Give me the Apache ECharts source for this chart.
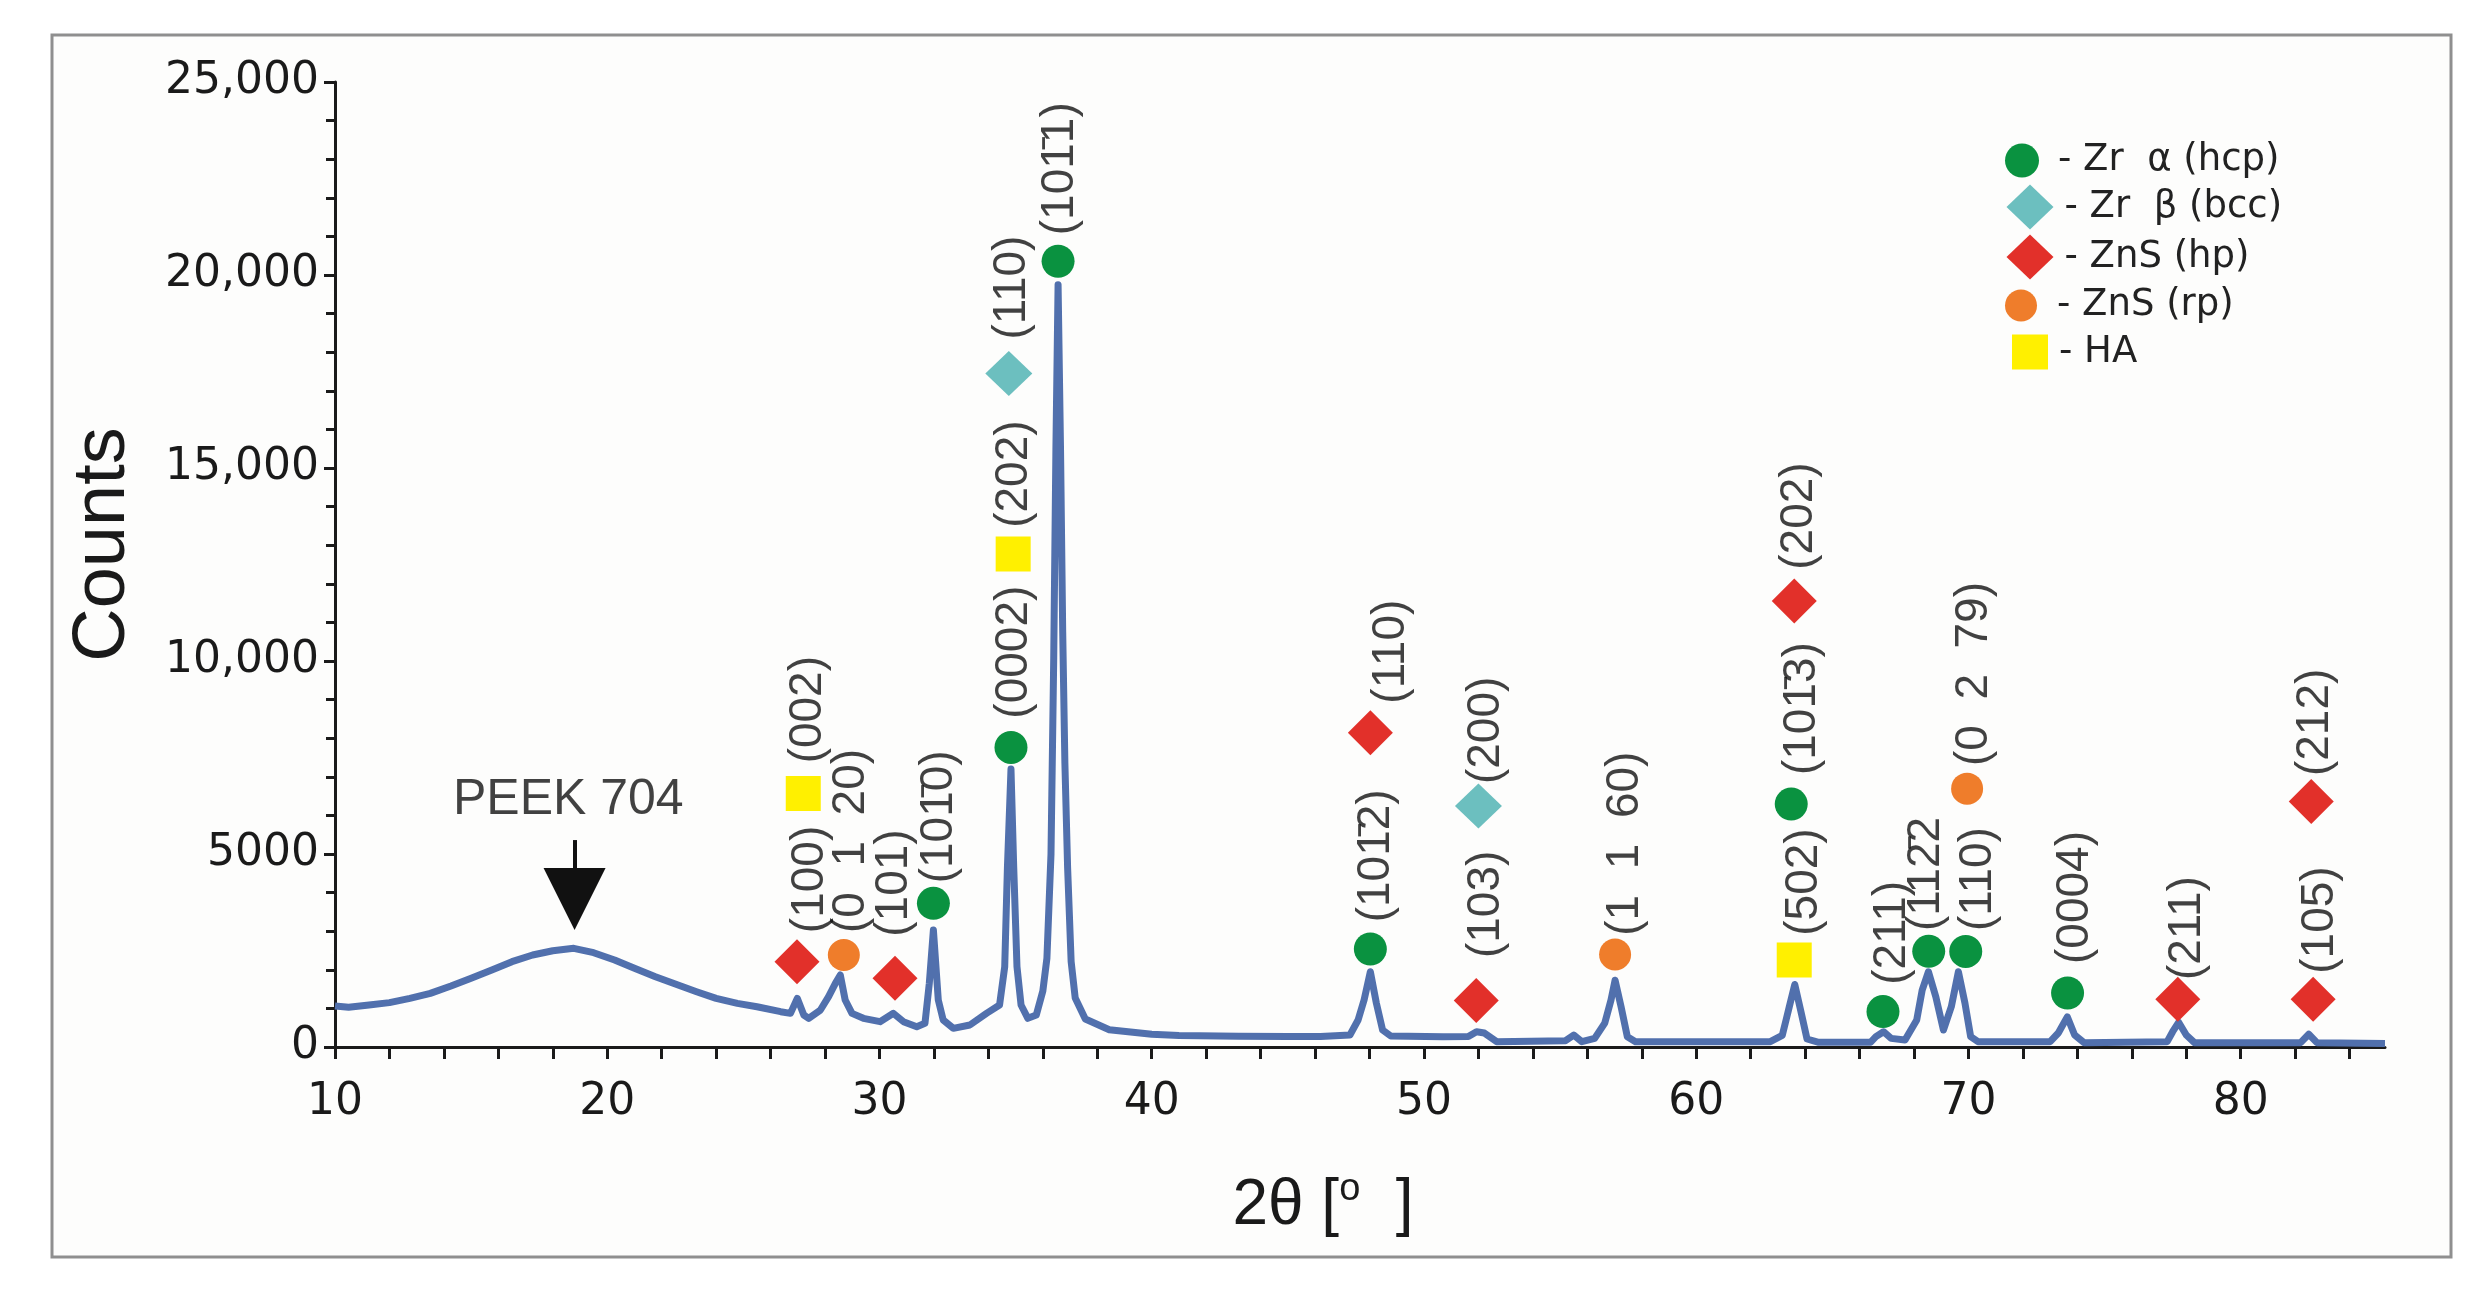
<!DOCTYPE html>
<html>
<head>
<meta charset="utf-8">
<script src="https://cdn.jsdelivr.net/npm/echarts@6/dist/echarts.min.js"></script>
<style>
html,body{margin:0;padding:0;background:#ffffff;}
#chart{width:2488px;height:1296px;}
</style>
</head>
<body>
<div id="chart"></div>
<script>
// ---------- data ----------
const twoTheta = [
  10.0,10.5,11.25,12.0,12.75,13.5,14.26,15.0,15.76,16.5,17.26,18.0,18.77,19.5,20.27,21.0,21.77,22.5,23.28,24.0,
  24.78,25.5,26.37,26.73,26.98,27.22,27.4,27.83,28.13,28.38,28.56,28.74,28.99,29.41,30.02,30.51,30.88,31.37,31.67,
  31.83,31.98,32.16,32.34,32.71,33.32,33.93,34.41,34.6,34.7,34.83,34.93,35.05,35.2,35.45,35.76,36.0,36.15,36.3,
  36.4,36.48,36.56,36.65,36.73,36.81,36.91,37.04,37.19,37.56,38.44,40.0,41.0,43.2,45.0,46.2,47.28,47.58,47.8,
  48.03,48.25,48.48,48.78,50.7,51.63,51.93,52.22,52.67,55.2,55.5,55.8,56.27,56.64,56.87,57.02,57.24,57.47,57.77,
  62.72,63.16,63.3,63.42,63.62,63.86,64.07,64.5,66.4,66.6,66.88,67.16,67.67,68.1,68.3,68.53,68.8,69.08,69.37,
  69.63,69.87,70.08,70.35,73.0,73.3,73.63,73.9,74.25,77.3,77.5,77.72,78.0,78.3,82.2,82.5,82.8,85.3
];
const counts = [
  1060,1030,1088,1150,1260,1390,1580,1780,1994,2210,2383,2494,2556,2443,2253,2038,1821,1632,1433,1261,
  1131,1044,915,872,1261,829,743,958,1303,1650,1865,1217,872,743,656,872,656,526,614,
  1650,3030,1217,700,484,570,872,1088,2080,4670,7200,4670,2080,1088,743,829,1450,2300,5000,
  10075,15488,19750,15488,10749,7356,4647,2209,1269,725,448,330,300,280,275,270,310,700,1217,
  1950,1140,440,285,267,270,396,362,138,164,310,138,224,620,1217,1730,1044,267,138,
  138,300,700,1044,1620,872,207,120,120,267,396,224,181,700,1476,1950,1303,440,1044,
  1950,1140,267,138,138,362,780,310,112,138,396,640,310,112,112,330,112,90
];

const phaseNames = ['Zr  α (hcp)', 'Zr  β (bcc)', 'ZnS (hp)', 'ZnS (rp)', 'HA'];

const zrAlphaPeaks = [[31.98,3722],[34.83,7762],[36.56,20357],[48.03,2538],[63.49,6294],[66.86,917],[68.54,2479],[69.9,2476],[73.64,1398]];
const zrBetaPeaks  = [[34.75,17450],[52.0,6242]];
const znsHpPeaks   = [[26.97,2210],[30.57,1779],[48.03,8143],[51.92,1207],[63.6,11554],[77.69,1238],[82.66,1238],[82.59,6358]];
const znsRpPeaks   = [[28.69,2383],[57.02,2396],[69.95,6693]];
const haPeaks      = [[27.2,6570],[34.91,12774],[63.6,2253]];

const reflectionText = ['(100)','(002)','(0  1  20)','(101)','(101\u03040)','(0002)','(202)','(110)','(101\u03041)',
  '(101\u03042)','(110)','(103)','(200)','(1  1  60)','(502)','(101\u03043)','(202)','(211)','(112\u03042',
  '(110)','(0  2  79)','(0004)','(211)','(105)','(212)'];
const reflectionX = [27.45,27.4,28.98,30.55,32.18,34.94,34.94,34.88,36.65,
  48.24,48.8,52.3,52.3,57.4,63.98,63.9,63.77,67.19,68.45,
  70.35,70.2,73.92,78.04,82.94,82.73];
const reflectionY = [2950,7348,2953,2857,4240,8506,13450,18327,21031,
  3230,8894,2305,6812,2883,2883,7045,12365,1611,3004,
  3004,7278,2150,1735,1898,7019];

const peekText = 'PEEK 704';
const peekTextAt = [18.57, 6397];
const peekArrowFrom = [18.8, 5361];
const peekArrowTo = [18.8, 3833];

const xTickValues = [10,12,14,16,18,20,22,24,26,28,30,32,34,36,38,40,42,44,46,48,50,52,54,56,58,60,62,64,66,68,70,72,74,76,78,80,82,84];
const xLabelValues = [10,20,30,40,50,60,70,80];
const yTickValues = [0,5000,10000,15000,20000,25000];
const yTickLabels = ['0','5000','10,000','15,000','20,000','25,000'];

// ---------- chart ----------
const pattern = twoTheta.map((x, i) => [x, counts[i]]);
const ink = '#1a1a1a';
const colors = ['#0a9240', '#6cbfbf', '#e2302a', '#ef7d2b', '#fff000'];

const chart = echarts.init(document.getElementById('chart'), null, {renderer: 'canvas'});

function scatterSeries(idx, data, symbol, size) {
  return {
    type: 'scatter', name: phaseNames[idx], data: data,
    symbol: symbol, symbolSize: size, z: 5, silent: true,
    itemStyle: {color: colors[idx], opacity: 1},
    emphasis: {disabled: true}
  };
}

const legendSpec = [
  {icon: 'circle', w: 50, h: 34, cy: 159},
  {icon: 'diamond', w: 47, h: 45, cy: 207},
  {icon: 'diamond', w: 47, h: 45, cy: 257},
  {icon: 'circle', w: 50, h: 32, cy: 303},
  {icon: 'rect', w: 36, h: 35, cy: 351}
];
const legendCx = 2030;
const legends = legendSpec.map((s, i) => ({
  show: true, orient: 'vertical', padding: 0, selectedMode: false,
  left: legendCx - s.w / 2, top: s.cy - s.h / 2,
  itemWidth: s.w, itemHeight: s.h, icon: s.icon,
  data: [phaseNames[i]],
  formatter: '- {name}',
  textStyle: {fontFamily: 'DejaVu Sans', fontSize: 37, color: '#222', padding: [0, 0, 0, 6]}
}));

const option = {
  animation: false,
  backgroundColor: '#ffffff',
  graphic: [{
    type: 'rect', z: -10, silent: true,
    shape: {x: 52, y: 35, width: 2399, height: 1222},
    style: {fill: '#fdfdfc', stroke: '#8f8f8f', lineWidth: 3}
  }],
  legend: legends,
  grid: {left: 335, right: 103, top: 82, bottom: 249, containLabel: false},
  xAxis: {
    type: 'value', min: 10, max: 85.3,
    axisLine: {show: true, onZero: false, lineStyle: {color: ink, width: 3}},
    axisTick: {show: true, customValues: xTickValues, length: 12, lineStyle: {color: ink, width: 3}},
    axisLabel: {show: true, customValues: xLabelValues, margin: 34, fontFamily: 'DejaVu Sans', fontSize: 44, color: ink},
    splitLine: {show: false},
    name: '2θ [{sup|o}  ]',
    nameLocation: 'middle', nameGap: 124,
    nameTextStyle: {
      fontFamily: 'Liberation Sans', fontSize: 64, color: ink, lineHeight: 70,
      padding: [0, 74, 0, 0],
      rich: {sup: {fontFamily: 'Liberation Sans', fontSize: 38, lineHeight: 38, verticalAlign: 'top', color: ink}}
    }
  },
  yAxis: {
    type: 'value', min: 0, max: 25000, interval: 5000,
    axisLine: {show: true, lineStyle: {color: ink, width: 3}},
    axisTick: {show: true, length: 11, lineStyle: {color: ink, width: 3}},
    minorTick: {show: true, splitNumber: 5, length: 9, lineStyle: {color: ink, width: 3}},
    splitLine: {show: false},
    axisLabel: {margin: 16, fontFamily: 'DejaVu Sans', fontSize: 44, color: ink,
      formatter: v => yTickLabels[yTickValues.indexOf(v)]},
    name: 'Counts', nameLocation: 'middle', nameGap: 194,
    nameTextStyle: {fontFamily: 'Liberation Sans', fontSize: 74, color: ink, padding: [0, 0, 0, 40]}
  },
  series: [
    {
      type: 'line', name: 'pattern', data: pattern, showSymbol: false, symbol: 'none',
      lineStyle: {color: '#5170ad', width: 7, join: 'round'}, z: 3, silent: true,
      emphasis: {disabled: true},
      markLine: {
        silent: true, symbol: ['none', 'triangle'], symbolSize: 62,
        lineStyle: {color: '#111', width: 4, type: 'solid'},
        itemStyle: {color: '#111'},
        label: {show: false}, emphasis: {disabled: true},
        data: [[{coord: peekArrowFrom}, {coord: peekArrowTo}]]
      }
    },
    scatterSeries(0, zrAlphaPeaks, 'circle', 33),
    scatterSeries(1, zrBetaPeaks, 'diamond', [47, 45]),
    scatterSeries(2, znsHpPeaks, 'diamond', [45, 45]),
    scatterSeries(3, znsRpPeaks, 'circle', 32),
    scatterSeries(4, haPeaks, 'rect', 35),
    {
      type: 'scatter', name: 'reflections', silent: true, symbolSize: 0, z: 4,
      data: reflectionText.map((t, i) => ({name: t, value: [reflectionX[i], reflectionY[i]]})),
      label: {show: true, position: 'inside', rotate: 90, align: 'left', verticalAlign: 'middle',
        formatter: '{b}', fontFamily: 'Liberation Sans', fontSize: 46, color: '#111'},
      emphasis: {disabled: true}
    },
    {
      type: 'scatter', name: 'peek', silent: true, symbolSize: 0, z: 4,
      data: [{name: peekText, value: peekTextAt}],
      label: {show: true, position: 'inside', align: 'center', verticalAlign: 'middle',
        formatter: '{b}', fontFamily: 'Liberation Sans', fontSize: 50, color: '#111'},
      emphasis: {disabled: true}
    }
  ]
};
chart.setOption(option);
</script>
</body>
</html>
